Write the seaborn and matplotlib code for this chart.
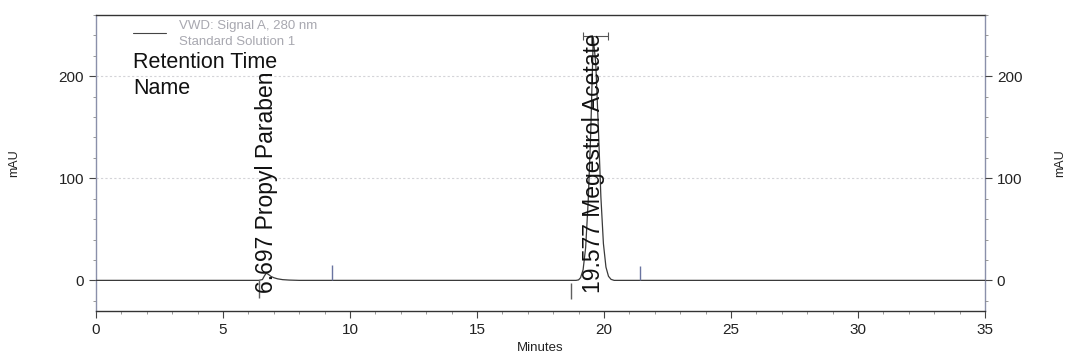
import numpy as np
import pandas as pd
import matplotlib
matplotlib.use("Agg")
import matplotlib.pyplot as plt
from matplotlib.ticker import MultipleLocator
from matplotlib.lines import Line2D
import seaborn as sns

# ---- data ----
time_min = [0.0, 2.0, 4.0, 6.0, 6.4, 6.55, 6.62, 6.697, 6.78, 6.88, 7.0, 7.15, 7.35, 7.6, 8.0,
            10.0, 14.0, 18.0, 18.9, 19.0, 19.077, 19.177, 19.277, 19.377, 19.477, 19.577,
            19.677, 19.777, 19.877, 19.977, 20.077, 20.177, 20.277, 20.4, 21.0, 25.0, 30.0, 35.0]
signal_mau = [0.0, 0.0, 0.0, 0.0, 0.0, 0.8, 4.0, 7.0, 6.0, 4.0, 2.6, 1.5, 0.7, 0.3, 0.0,
              0.0, 0.0, 0.0, 0.0, 0.5, 2.6, 10.4, 32.0, 77.0, 144.0, 238.0,
              212.0, 150.0, 82.0, 36.0, 13.0, 4.0, 1.0, 0.0, 0.0, 0.0, 0.0, 0.0]

peak_rt = [6.697, 19.577]
peak_names = ["Propyl Paraben", "Megestrol Acetate"]

event_x = [6.4, 9.3, 18.7, 21.4]
event_y0 = [0.0, 0.0, -3.0, 0.0]
event_y1 = [-17.0, 15.0, -18.0, 14.0]
event_colors = ["#606060", "#6a74a0", "#606060", "#6a74a0"]

x_ticks = [0, 5, 10, 15, 20, 25, 30, 35]
y_ticks = [0, 100, 200]

df = pd.DataFrame({"Minutes": time_min, "mAU": signal_mau})

sns.set_style("ticks")
plt.rcParams["font.family"] = ["Liberation Sans", "DejaVu Sans"]

fig = plt.figure(figsize=(10.72, 3.62), dpi=100)
ax = fig.add_axes([0.0896, 0.1409, 0.9188 - 0.0896, 0.9586 - 0.1409])

# grid lines
for gy in [100, 200]:
    ax.axhline(gy, color="#d4d4d8", lw=0.8, ls=(0, (2, 2)), zorder=0)

sns.lineplot(data=df, x="Minutes", y="mAU", ax=ax, color="#3a3a3a", lw=0.9, zorder=3)

ax.vlines(event_x, event_y0, event_y1, colors=event_colors, lw=1.0, zorder=3)

# peak top marker for main peak
ax.errorbar([19.66], [239], xerr=[[0.5], [0.5]], fmt="none", ecolor="#555555",
            elinewidth=0.8, capsize=3, capthick=0.8, zorder=3)

for rt, nm in zip(peak_rt, peak_names):
    ax.text(rt, -12, f"{rt:.3f} {nm}", rotation=90, ha="center", va="bottom",
            fontsize=16.5, color="#111111", zorder=4)

ax.set_xlim(0, 35)
ax.set_ylim(-30, 260)
ax.set_xticks(x_ticks)
ax.set_yticks(y_ticks)
ax.xaxis.set_minor_locator(MultipleLocator(1))
ax.yaxis.set_minor_locator(MultipleLocator(20))
ax.tick_params(axis="both", which="major", labelsize=11, length=5, width=0.8,
               colors="#444444", labelcolor="#222222", direction="out")
ax.tick_params(axis="both", which="minor", length=2.5, width=0.6, colors="#888888",
               direction="out")
ax.set_xlabel("Minutes", fontsize=9.5, color="#222222", labelpad=4)
ax.set_ylabel("mAU", fontsize=9, color="#222222", labelpad=28)

for side in ["top", "bottom", "left", "right"]:
    ax.spines[side].set_visible(True)
ax.spines["top"].set_color("#333333")
ax.spines["bottom"].set_color("#333333")
ax.spines["left"].set_color("#8a90aa")
ax.spines["right"].set_color("#8a90aa")
for s in ax.spines.values():
    s.set_linewidth(1.0)

ax2 = ax.twinx()
ax2.set_ylim(ax.get_ylim())
ax2.set_yticks(y_ticks)
ax2.yaxis.set_minor_locator(MultipleLocator(20))
ax2.tick_params(axis="y", which="major", labelsize=11, length=5, width=0.8,
                colors="#444444", labelcolor="#222222", direction="out")
ax2.tick_params(axis="y", which="minor", length=2.5, width=0.6, colors="#888888",
                direction="out")
for s in ax2.spines.values():
    s.set_visible(False)

W, H = 1072.0, 362.0
# right axis label
fig.text(1060 / W, 1 - 163 / H, "mAU", fontsize=9, color="#222222", rotation=90,
         ha="center", va="center")

# legend / header block
fig.add_artist(Line2D([133 / W, 166 / W], [1 - 33 / H, 1 - 33 / H], color="#444444", lw=0.8))
fig.text(179 / W, 1 - 26 / H, "VWD: Signal A, 280 nm", fontsize=9.5, color="#a8a8b0", va="center")
fig.text(179 / W, 1 - 42 / H, "Standard Solution 1", fontsize=9.5, color="#a8a8b0", va="center")
fig.text(133 / W, 1 - 63 / H, "Retention Time", fontsize=15.5, color="#111111", va="center")
fig.text(133 / W, 1 - 88 / H, "Name", fontsize=15.5, color="#111111", va="center")

fig.savefig("out.png", dpi=100)
